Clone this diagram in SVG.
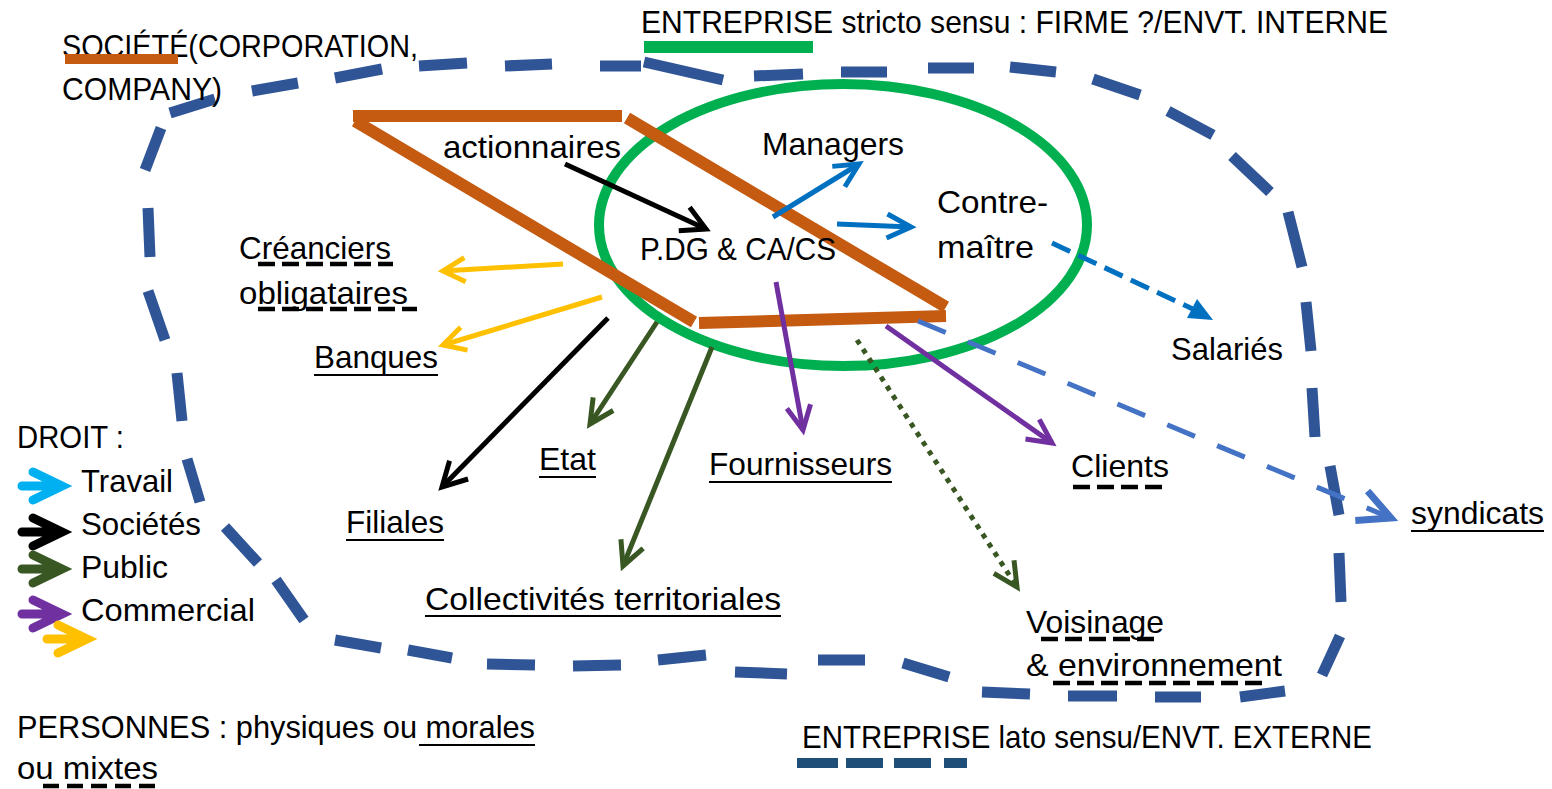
<svg xmlns="http://www.w3.org/2000/svg" width="1552" height="789" viewBox="0 0 1552 789">
<style>
.t{font-family:"Liberation Sans",Arial,sans-serif;font-size:32px;fill:#000}
.ul{stroke:#000;stroke-width:2;fill:none}
.dul{stroke:#000;stroke-width:4.5;stroke-dasharray:17 7;fill:none}
.org{stroke:#C55A11;stroke-width:12;fill:none;stroke-linecap:butt}
.bnd{stroke:#2F5597;stroke-width:11;fill:none;stroke-linecap:butt;stroke-linejoin:round}
.c{fill:none;stroke-width:5;stroke-linecap:butt}
.leg{fill:none;stroke-width:9;stroke-linecap:round;stroke-linejoin:miter}
</style>
<defs>
<marker id="mBlack" markerUnits="userSpaceOnUse" viewBox="-30 -20 40 40" markerWidth="40" markerHeight="40" refX="0" refY="0" orient="auto" overflow="visible"><path d="M-24,-13 L0,0 L-24,13" fill="none" stroke="#000" stroke-width="5"/></marker>
<marker id="mBlue" markerUnits="userSpaceOnUse" viewBox="-30 -20 40 40" markerWidth="40" markerHeight="40" refX="0" refY="0" orient="auto" overflow="visible"><path d="M-24,-12 L0,0 L-24,12" fill="none" stroke="#0070C0" stroke-width="5"/></marker>
<marker id="mBlueFill" markerUnits="userSpaceOnUse" viewBox="-30 -20 40 40" markerWidth="40" markerHeight="40" refX="0" refY="0" orient="auto" overflow="visible"><path d="M-24,-11 L0,0 L-24,11 Z" fill="#0070C0"/></marker>
<marker id="mYellow" markerUnits="userSpaceOnUse" viewBox="-30 -20 40 40" markerWidth="40" markerHeight="40" refX="0" refY="0" orient="auto" overflow="visible"><path d="M-22,-12 L0,0 L-22,12" fill="none" stroke="#FFC000" stroke-width="5"/></marker>
<marker id="mGreen" markerUnits="userSpaceOnUse" viewBox="-30 -20 40 40" markerWidth="40" markerHeight="40" refX="0" refY="0" orient="auto" overflow="visible"><path d="M-24,-12 L0,0 L-24,12" fill="none" stroke="#385723" stroke-width="5"/></marker>
<marker id="mPurple" markerUnits="userSpaceOnUse" viewBox="-30 -20 40 40" markerWidth="40" markerHeight="40" refX="0" refY="0" orient="auto" overflow="visible"><path d="M-24,-12 L0,0 L-24,12" fill="none" stroke="#7030A0" stroke-width="5"/></marker>
<marker id="mLBlue" markerUnits="userSpaceOnUse" viewBox="-40 -25 50 50" markerWidth="50" markerHeight="50" refX="0" refY="0" orient="auto" overflow="visible"><path d="M-32,-16 L0,0 L-32,16" fill="none" stroke="#4472C4" stroke-width="7"/></marker>
</defs>
<rect width="1552" height="789" fill="#fff"/>

<g id="boundary">
<path class="bnd" d="M505,66 L552,64 M600,66 L641,66 M644,62 L723,80 M754,76 L803,74 M841,72 L887,72 M928,68 L974,68 M1010,67 L1056,72 M1093,79 L1140,95 M1168,111 L1213,135 M1232,156 L1270,192 M1288,212 L1302,267 M1306,302 L1311,351 M1312,388 L1315,437 M1330,466 L1339,515 M1339,553 L1341,602 M1340,636 L1322,675 M1285,691 L1240,697 M1201,697 L1155,697 M1117,696 L1068,696 M1030,694 L982,692 M949,677 L903,663 M865,660 L818,660 M787,674 L735,672 M706,655 L658,660 M621,665 L573,666 M535,665 L487,664 M452,658 L408,650 M381,648 L335,640 M304,620 L276,580 M258,563 L225,527 M200,502 L187,459 M182,421 L177,373 M165,340 L148,291 M150,257 L148,208 M145,170 L161,128 M170,113 L215,99 M252,91 L298,83 M335,78 L382,69 M419,66 L467,63"/>
</g>

<g id="firme-ellipse">
<ellipse cx="843" cy="225" rx="244" ry="141" fill="none" stroke="#00B050" stroke-width="10"/>
</g>

<g id="societe-shape">
<path class="org" d="M353,116 L622,116"/>
<path class="org" d="M355,121 L694,322"/>
<path class="org" d="M627,118 L946,307"/>
<path class="org" d="M699,323 L946,316"/>
</g>

<g id="connectors">
<path class="c" stroke="#000" d="M565,164 L706,229" marker-end="url(#mBlack)"/>
<path class="c" stroke="#0070C0" d="M773,217 L859,164" marker-end="url(#mBlue)"/>
<path class="c" stroke="#0070C0" d="M837,224 L911,227" marker-end="url(#mBlue)"/>
<path class="c" stroke="#0070C0" stroke-width="6" stroke-dasharray="20 9" d="M1052,243 L1197,311"/>
<path fill="#0070C0" d="M1213,320 L1187,318 L1197,299 Z"/>
<path class="c" stroke="#4472C4" stroke-width="7" stroke-dasharray="30 24" d="M918,321 L1391,518" marker-end="url(#mLBlue)"/>
<path class="c" stroke="#FFC000" d="M563,264 L443,271" marker-end="url(#mYellow)"/>
<path class="c" stroke="#FFC000" d="M602,297 L443,345" marker-end="url(#mYellow)"/>
<path class="c" stroke="#000" d="M608,318 L442,487" marker-end="url(#mBlack)"/>
<path class="c" stroke="#385723" d="M657,322 L590,424" marker-end="url(#mGreen)"/>
<path class="c" stroke="#385723" d="M712,347 L623,566" marker-end="url(#mGreen)"/>
<path class="c" stroke="#7030A0" d="M776,282 L803,430" marker-end="url(#mPurple)"/>
<path class="c" stroke="#7030A0" d="M886,326 L1052,443" marker-end="url(#mPurple)"/>
<path class="c" stroke="#385723" stroke-dasharray="5 6" d="M857,340 L1017,587" marker-end="url(#mGreen)"/>
</g>

<g id="title-societe">
<text class="t" x="62" y="57" textLength="356" lengthAdjust="spacingAndGlyphs">SOCIÉTÉ(CORPORATION,</text>
<text class="t" x="62" y="100" textLength="160" lengthAdjust="spacingAndGlyphs">COMPANY)</text>
<rect x="65" y="54" width="113" height="10" fill="#C55A11"/>
</g>

<g id="title-entreprise-stricto">
<text class="t" x="641" y="33" textLength="747" lengthAdjust="spacingAndGlyphs">ENTREPRISE stricto sensu : FIRME ?/ENVT. INTERNE</text>
<rect x="644" y="41" width="169" height="12" fill="#00B050"/>
</g>

<g id="node-actionnaires"><text class="t" x="443" y="158" textLength="178" lengthAdjust="spacingAndGlyphs">actionnaires</text></g>
<g id="node-managers"><text class="t" x="762" y="155" textLength="142" lengthAdjust="spacingAndGlyphs">Managers</text></g>
<g id="node-contremaitre">
<text class="t" x="937" y="213" textLength="111" lengthAdjust="spacingAndGlyphs">Contre-</text>
<text class="t" x="937" y="258" textLength="97" lengthAdjust="spacingAndGlyphs">maître</text>
</g>
<g id="node-pdg"><text class="t" x="640" y="260" textLength="196" lengthAdjust="spacingAndGlyphs">P.DG &amp; CA/CS</text></g>
<g id="node-creanciers">
<text class="t" x="239" y="259" textLength="152" lengthAdjust="spacingAndGlyphs">Créanciers</text>
<text class="t" x="239" y="304" textLength="169" lengthAdjust="spacingAndGlyphs">obligataires</text>
<path class="dul" d="M258,264 H393 M258,309 H417"/>
</g>
<g id="node-banques">
<text class="t" x="314" y="368" textLength="124" lengthAdjust="spacingAndGlyphs">Banques</text>
<path class="ul" d="M314,375 H438"/>
</g>
<g id="node-salaries"><text class="t" x="1171" y="360" textLength="112" lengthAdjust="spacingAndGlyphs">Salariés</text></g>
<g id="node-filiales">
<text class="t" x="346" y="533" textLength="98" lengthAdjust="spacingAndGlyphs">Filiales</text>
<path class="ul" d="M346,540 H444"/>
</g>
<g id="node-etat">
<text class="t" x="539" y="470" textLength="57" lengthAdjust="spacingAndGlyphs">Etat</text>
<path class="ul" d="M539,477 H596"/>
</g>
<g id="node-fournisseurs">
<text class="t" x="709" y="475" textLength="183" lengthAdjust="spacingAndGlyphs">Fournisseurs</text>
<path class="ul" d="M709,482 H892"/>
</g>
<g id="node-clients">
<text class="t" x="1071" y="477" textLength="98" lengthAdjust="spacingAndGlyphs">Clients</text>
<path class="dul" d="M1073,487 H1162"/>
</g>
<g id="node-syndicats">
<text class="t" x="1411" y="524" textLength="133" lengthAdjust="spacingAndGlyphs">syndicats</text>
<path class="ul" d="M1411,531 H1544"/>
</g>
<g id="node-collectivites">
<text class="t" x="425" y="610" textLength="356" lengthAdjust="spacingAndGlyphs">Collectivités territoriales</text>
<path class="ul" d="M425,616 H781"/>
</g>
<g id="node-voisinage">
<text class="t" x="1026" y="633" textLength="138" lengthAdjust="spacingAndGlyphs">Voisinage</text>
<text class="t" x="1026" y="676" textLength="256" lengthAdjust="spacingAndGlyphs">&amp; environnement</text>
<path class="dul" d="M1041,639 H1157 M1053,683 H1267"/>
</g>

<g id="title-entreprise-lato">
<text class="t" x="802" y="748" textLength="570" lengthAdjust="spacingAndGlyphs">ENTREPRISE lato sensu/ENVT. EXTERNE</text>
<path d="M797,763 H967" stroke="#1F4E79" stroke-width="10" stroke-dasharray="41 8 37 11 37 13 24"/>
</g>

<g id="legend">
<text class="t" x="17" y="448" textLength="107" lengthAdjust="spacingAndGlyphs">DROIT :</text>
<path class="leg" stroke="#00B0F0" d="M22,486 H60 M33,472 L62,486 L33,500"/>
<text class="t" x="81" y="492" textLength="92" lengthAdjust="spacingAndGlyphs">Travail</text>
<path class="leg" stroke="#000" d="M22,532 H60 M33,518 L62,532 L33,546"/>
<text class="t" x="81" y="535" textLength="120" lengthAdjust="spacingAndGlyphs">Sociétés</text>
<path class="leg" stroke="#385723" d="M22,569 H60 M33,555 L62,569 L33,583"/>
<text class="t" x="81" y="578" textLength="87" lengthAdjust="spacingAndGlyphs">Public</text>
<path class="leg" stroke="#7030A0" d="M22,614 H60 M33,600 L62,614 L33,628"/>
<text class="t" x="81" y="621" textLength="174" lengthAdjust="spacingAndGlyphs">Commercial</text>
<path class="leg" stroke="#FFC000" d="M47,639 H85 M58,625 L87,639 L58,653"/>
</g>

<g id="personnes">
<text class="t" x="17" y="738" textLength="518" lengthAdjust="spacingAndGlyphs">PERSONNES : physiques ou morales</text>
<path class="ul" d="M419,745 H535"/>
<text class="t" x="17" y="779" textLength="141" lengthAdjust="spacingAndGlyphs">ou mixtes</text>
<path d="M43,786 H158" stroke="#000" stroke-width="4.5" stroke-dasharray="16 8" fill="none"/>
</g>
</svg>
